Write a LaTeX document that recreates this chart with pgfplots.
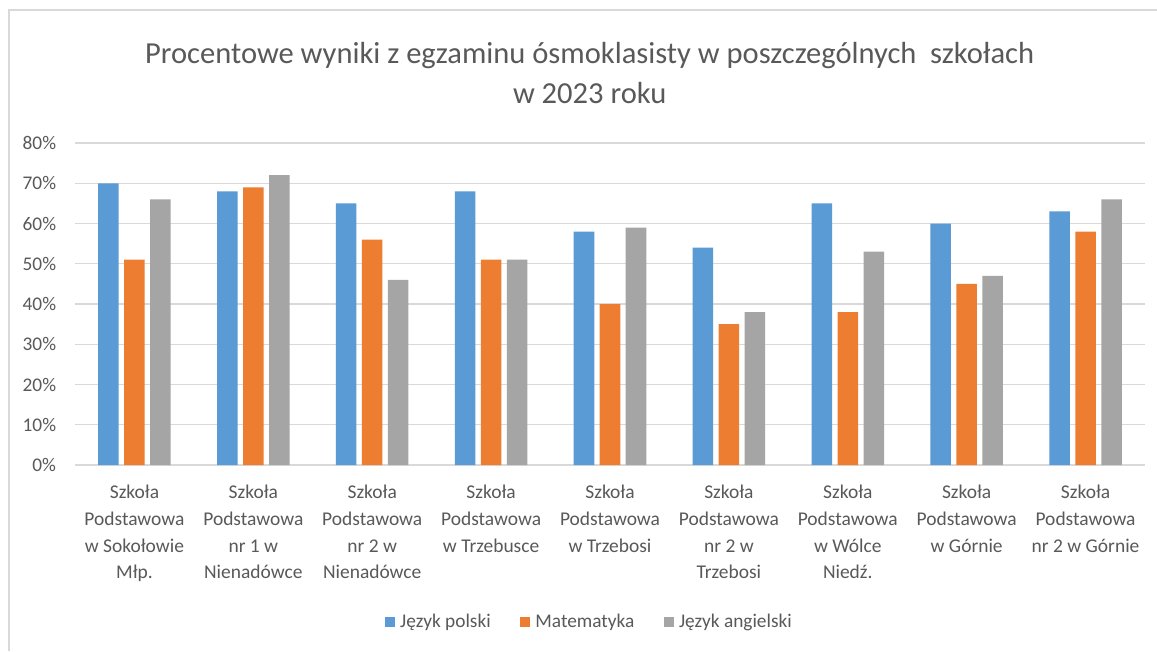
\documentclass[border=0pt]{standalone}
\usepackage{pgfplots}
\pgfplotsset{compat=1.18}
\usepackage{fontspec}
\setmainfont{Carlito}
\definecolor{cblue}{HTML}{5B9BD5}
\definecolor{corange}{HTML}{ED7D31}
\definecolor{cgray}{HTML}{A5A5A5}
\definecolor{ctext}{HTML}{595959}
\definecolor{cgrid}{HTML}{D9D9D9}
\begin{document}
\begin{tikzpicture}
\path[use as bounding box, fill=white] (-56.25pt,-139.5pt) rectangle (811.5pt,348.75pt);
\draw[cgrid, line width=1.2pt] (-49.5pt,-139.5pt) -- (-49.5pt,341.25pt) -- (811.5pt,341.25pt);
\begin{axis}[
    scale only axis,
    width=802.5pt, height=241.5pt,
    ybar=4.1pt, bar width=15.4pt,
    ymin=0, ymax=80,
    xmin=-0.5, xmax=8.5,
    ytick={0,10,...,80},
    xtick={0,...,8},
    xticklabels={
      {Szkoła\\Podstawowa\\w Sokołowie\\Młp.},
      {Szkoła\\Podstawowa\\nr 1 w\\Nienadówce},
      {Szkoła\\Podstawowa\\nr 2 w\\Nienadówce},
      {Szkoła\\Podstawowa\\w Trzebusce},
      {Szkoła\\Podstawowa\\w Trzebosi},
      {Szkoła\\Podstawowa\\nr 2 w\\Trzebosi},
      {Szkoła\\Podstawowa\\w Wólce\\Niedź.},
      {Szkoła\\Podstawowa\\w Górnie},
      {Szkoła\\Podstawowa\\nr 2 w Górnie}},
    yticklabel={\pgfmathprintnumber{\tick}\%},
    /pgf/number format/assume math mode=true,
    axis line style={draw=none},
    major tick length=0pt,
    ymajorgrids,
    grid style={cgrid, line width=1.1pt},
    extra y ticks={0},
    extra y tick labels={},
    extra y tick style={grid style={cgrid, line width=1.4pt}},
    yticklabel style={font=\fontsize{14.5}{17}\selectfont, text=ctext, inner sep=0pt, xshift=-14pt},
    xticklabel style={font=\fontsize{14.6}{20}\selectfont, text=ctext, align=center, inner sep=0pt, yshift=-15pt, anchor=north},
    legend style={at={(386pt,-117.75pt)}, anchor=center, draw=none, fill=none,
      legend columns=-1, font=\fontsize{14.5}{17}\selectfont, text=ctext,
      /tikz/every even column/.append style={column sep=20pt}},
    legend image code/.code={\fill[#1] (0pt,-3.75pt) rectangle (7.5pt,3.75pt); \path (9.5pt,0pt);},
    legend cell align=left,
]
\addplot[fill=cblue, draw=none] coordinates {(0,70) (1,68) (2,65) (3,68) (4,58) (5,54) (6,65) (7,60) (8,63)};
\addlegendentry{Język polski}
\addplot[fill=corange, draw=none] coordinates {(0,51) (1,69) (2,56) (3,51) (4,40) (5,35) (6,38) (7,45) (8,58)};
\addlegendentry{Matematyka}
\addplot[fill=cgray, draw=none] coordinates {(0,66) (1,72) (2,46) (3,51) (4,59) (5,38) (6,53) (7,47) (8,66)};
\addlegendentry{Język angielski}
\end{axis}
\node[text=ctext, font=\fontsize{22.9}{30}\selectfont, align=center] at (386pt,294pt)
  {Procentowe wyniki z egzaminu ósmoklasisty w poszczególnych\ \ szkołach\\w 2023 roku};
\end{tikzpicture}
\end{document}
